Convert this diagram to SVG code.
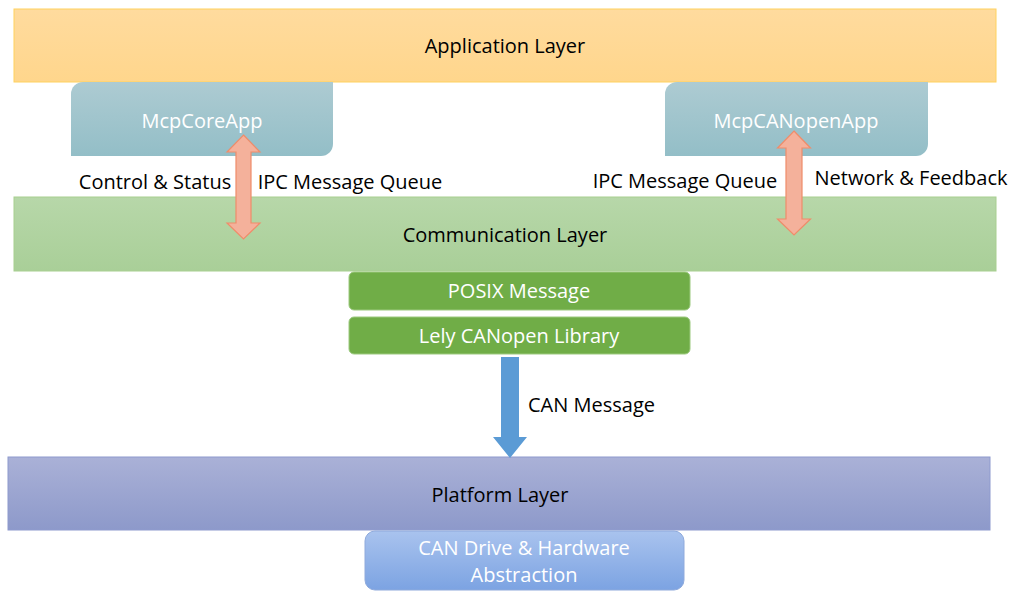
<svg xmlns="http://www.w3.org/2000/svg" width="1016" height="592" viewBox="0 0 1016 592">
<defs>
<linearGradient id="gApp" x1="0" y1="0" x2="0" y2="1"><stop offset="0" stop-color="#FFDB9E"/><stop offset="1" stop-color="#FFD68C"/></linearGradient>
<linearGradient id="gTeal" x1="0" y1="0" x2="0" y2="1"><stop offset="0" stop-color="#ADCBD2"/><stop offset="1" stop-color="#93BEC7"/></linearGradient>
<linearGradient id="gComm" x1="0" y1="0" x2="0" y2="1"><stop offset="0" stop-color="#B7D7A9"/><stop offset="1" stop-color="#A9CF98"/></linearGradient>
<linearGradient id="gPlat" x1="0" y1="0" x2="0" y2="1"><stop offset="0" stop-color="#AAB1D7"/><stop offset="1" stop-color="#8D99CA"/></linearGradient>
<linearGradient id="gDrv" x1="0" y1="0" x2="0" y2="1"><stop offset="0" stop-color="#A9C3EE"/><stop offset="1" stop-color="#7CA3E2"/></linearGradient>
</defs>
<style>
text{font-family:"Open Sans","Liberation Sans",sans-serif;font-size:20px;fill:#000}
.c{text-anchor:middle}
.w{fill:#fff}
.layer{stroke-width:1}
.grn{fill:#70AD47;stroke:#9CC97F;stroke-width:1}
.oarrow{fill:#F4B19B;stroke:#EF8C6A;stroke-width:1.2}
.barrow{fill:#5B9BD5}
</style>
<g id="application-layer">
<rect x="14" y="9" width="982" height="73" fill="url(#gApp)" stroke="#FFD25E" class="layer"/>
<text x="505" y="53" class="c">Application Layer</text>
</g>
<g id="mcpcoreapp">
<path d="M83,82 H333 V144 A12,12 0 0 1 321,156 H71 V94 A12,12 0 0 1 83,82 Z" fill="url(#gTeal)"/>
<text x="202" y="128" class="c w">McpCoreApp</text>
</g>
<g id="mcpcanopenapp">
<path d="M677,82 H928 V144 A12,12 0 0 1 916,156 H665 V94 A12,12 0 0 1 677,82 Z" fill="url(#gTeal)"/>
<text x="796" y="128" class="c w">McpCANopenApp</text>
</g>
<g id="communication-layer">
<rect x="14" y="197" width="982" height="74" fill="url(#gComm)" stroke="#A8CF90" class="layer"/>
<text x="505" y="242" class="c">Communication Layer</text>
</g>
<g id="posix-message">
<rect x="349" y="272" width="341" height="38" rx="5" class="grn"/>
<text x="519" y="298" class="c w">POSIX Message</text>
</g>
<g id="lely-canopen-library">
<rect x="349" y="317" width="341" height="37" rx="5" class="grn"/>
<text x="519" y="343" class="c w">Lely CANopen Library</text>
</g>
<g id="platform-layer">
<rect x="8" y="457" width="982" height="73" fill="url(#gPlat)" stroke="#8E9ACE" class="layer"/>
<text x="500" y="502" class="c">Platform Layer</text>
</g>
<g id="can-drive">
<rect x="365" y="531" width="319" height="59" rx="10" fill="url(#gDrv)" stroke="#8FAADC" stroke-width="1"/>
<text x="524" y="555" class="c w">CAN Drive &amp; Hardware</text>
<text x="524" y="582" class="c w">Abstraction</text>
</g>
<g id="connectors">
<polygon class="oarrow" points="243.5,135 260,152 251,152 251,223 260,223 243.5,239 227,223 236,223 236,152 227,152"/>
<polygon class="oarrow" points="794,131 810.5,148 802,148 802,219 810.5,219 794,235 777.5,219 786,219 786,148 777.5,148"/>
<polygon class="barrow" points="501,357 519,357 519,437 527,437 510,458 493,437 501,437"/>
<text x="155" y="189" class="c">Control &amp; Status</text>
<text x="350" y="189" class="c">IPC Message Queue</text>
<text x="685" y="188" class="c">IPC Message Queue</text>
<text x="911" y="185" class="c">Network &amp; Feedback</text>
<text x="528" y="412">CAN Message</text>
</g>
</svg>
